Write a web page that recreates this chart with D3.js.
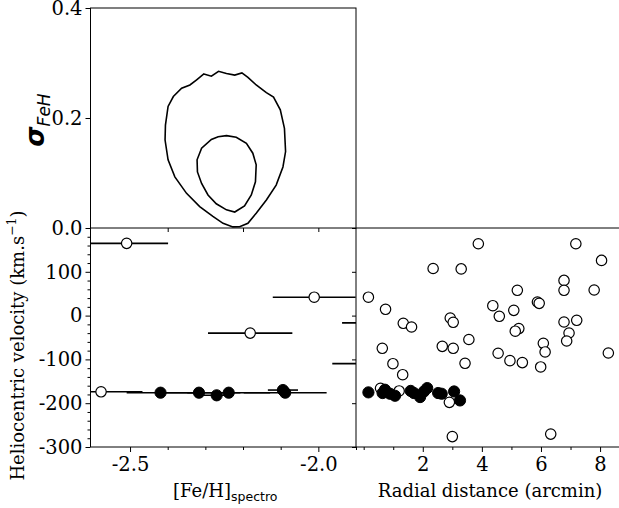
<!DOCTYPE html>
<html>
<head>
<meta charset="utf-8">
<script src="https://cdn.jsdelivr.net/npm/d3@7"></script>
<style>
  body { margin: 0; background: #fff; }
  svg text { font-family: "DejaVu Serif", serif; fill: #000; }
</style>
</head>
<body>
<svg id="fig" width="619" height="508"></svg>
<script>
// contour levels of (mean [Fe/H], sigma)
const contourOuter = [
  [-2.304,0.280],[-2.284,0.276],[-2.265,0.285],[-2.244,0.281],[-2.222,0.278],[-2.203,0.282],
  [-2.187,0.274],[-2.165,0.260],[-2.138,0.246],[-2.119,0.238],[-2.101,0.215],[-2.090,0.181],
  [-2.087,0.139],[-2.094,0.111],[-2.112,0.078],[-2.138,0.051],[-2.165,0.027],[-2.187,0.0085],
  [-2.209,0.0024],[-2.227,0.002],[-2.253,0.0085],[-2.280,0.021],[-2.315,0.039],[-2.350,0.063],
  [-2.381,0.093],[-2.399,0.124],[-2.407,0.160],[-2.406,0.187],[-2.399,0.221],[-2.385,0.239],
  [-2.363,0.254],[-2.341,0.260],[-2.324,0.269]
];
const contourInner = [
  [-2.244,0.168],[-2.218,0.165],[-2.191,0.154],[-2.174,0.136],[-2.165,0.115],[-2.167,0.084],
  [-2.178,0.060],[-2.196,0.040],[-2.222,0.029],[-2.244,0.033],[-2.271,0.044],[-2.293,0.060],
  [-2.310,0.081],[-2.321,0.102],[-2.322,0.124],[-2.310,0.145],[-2.284,0.161],[-2.266,0.166]
];

// velocity vs spectroscopic [Fe/H]
const openFeh = [-2.509, -2.011, -2.181, -2.577, -1.827, -1.853];
const openFehVel = [165, 42, -40, -174, -16.7, -109.6];
const openFehErr = [0.11, 0.11, 0.112, 0.11, 0.11, 0.11];
const filledFeh = [-2.419, -2.317, -2.270, -2.238, -2.094, -2.088];
const filledFehVel = [-176, -176, -182, -176, -170, -176];
const filledFehErr = [0.09, 0.11, 0.04, 0.11, 0.04, 0.11];

// velocity vs radial distance
const openRad = [3.88, 2.35, 3.30, 0.16, 0.74, 1.34, 1.62, 2.93, 3.03, 3.56, 0.63, 2.66, 3.03, 0.99, 1.32, 3.43,
  7.18, 8.05, 6.78, 6.78, 7.80, 5.20, 4.37, 4.59, 5.08, 5.88, 5.94, 5.25, 5.13, 6.78, 7.21, 6.95, 6.87, 6.08,
  6.14, 4.55, 4.95, 5.37, 5.99, 8.28, 3.00, 6.33, 2.90, 0.57, 1.20];
const openRadVel = [164, 107.5, 106.6, 42, 14.4, -17.6, -26, -5.5, -15.3, -54.6, -74.7, -70.2, -74.7, -109.8, -134.9, -108.9,
  164, 126, 80.4, 57.8, 58.5, 57.8, 22.6, -1.6, 12, 31, 28, -29.7, -35.6, -14.6, -10.7, -39.7, -58, -63.2,
  -83, -86, -102.8, -107.3, -117.2, -85.4, -276.3, -270.5, -198.1, -165.9, -172];
const filledRad = [0.16, 0.72, 0.64, 0.89, 1.06, 1.59, 1.70, 1.91, 2.04, 2.15, 2.52, 2.64, 3.06, 3.26];
const filledRadVel = [-175.3, -169.2, -176.8, -178.4, -183, -171.9, -176.8, -186, -173.2, -165.5, -176.8, -178.4, -173.2, -193.7];

const sigmaTicks = [0, 0.2, 0.4];
const fehTopTicks = [-2.4, -2.2, -2.0];
const fehMajor = [-2.5, -2.0];
const fehMinor = [-2.4, -2.3, -2.2, -2.1, -1.9];
const velMajor = [-300, -200, -100, 0, 100];
const velMinor = d3.range(-280, 200, 20).filter(v => v % 100 !== 0);
const radMajor = [2, 4, 6, 8];
const radMinor = [0, 1, 3, 5, 7];

const svg = d3.select("#fig");
const fmt = d => String(d).replace("\u2212", "-");

const L = 90.5, M = 356, R = 624, T = 8, MID = 228, B = 447;

const xFe = d3.scaleLinear().domain([-2.605, -1.9]).range([L, M]);
const ySig = d3.scaleLinear().domain([0, 0.4]).range([MID, T]);
const yVel = d3.scaleLinear().domain([-300, 200]).range([B, MID]);
const xRad = d3.scaleLinear().domain([-0.26, 8.81]).range([M, R]);

svg.append("defs").call(d => {
  d.append("clipPath").attr("id", "clipLeft").append("rect")
    .attr("x", L).attr("y", MID).attr("width", M - L).attr("height", B - MID);
  d.append("clipPath").attr("id", "clipTop").append("rect")
    .attr("x", L).attr("y", T).attr("width", M - L).attr("height", MID - T);
});

function styleAxis(g) {
  g.select(".domain").remove();
  g.selectAll(".tick line").attr("stroke", "#000").attr("stroke-width", 1);
  g.selectAll(".tick text").style("font-size", "19.5px").style("font-family", "DejaVu Serif");
}

// top panel: contours
const topPanel = svg.append("g");
topPanel.append("g").attr("clip-path", "url(#clipTop)")
  .selectAll("path").data([contourOuter, contourInner]).enter().append("path")
  .attr("d", d3.line().x(d => xFe(d[0])).y(d => ySig(d[1])).curve(d3.curveLinearClosed))
  .attr("fill", "none").attr("stroke", "#000").attr("stroke-width", 1.6);

topPanel.append("g").attr("transform", `translate(${L},0)`)
  .call(d3.axisLeft(ySig).tickValues(sigmaTicks).tickFormat(d3.format(".1f")).tickSize(5).tickPadding(3))
  .call(styleAxis);
topPanel.append("g").attr("transform", `translate(0,${MID})`)
  .call(d3.axisBottom(xFe).tickValues(fehTopTicks).tickFormat("").tickSize(4))
  .call(styleAxis);
topPanel.append("rect").attr("x", L).attr("y", T).attr("width", M - L).attr("height", MID - T)
  .attr("fill", "none").attr("stroke", "#000").attr("stroke-width", 1);

// bottom left: velocity vs [Fe/H]
const bl = svg.append("g");
const blPlot = bl.append("g").attr("clip-path", "url(#clipLeft)");
const openL = openFeh.map((f, i) => ({ f, v: openFehVel[i], e: openFehErr[i] }));
const fillL = filledFeh.map((f, i) => ({ f, v: filledFehVel[i], e: filledFehErr[i] }));

blPlot.selectAll(".eo").data(openL).enter().append("line")
  .attr("x1", d => xFe(d.f - d.e)).attr("x2", d => xFe(d.f + d.e))
  .attr("y1", d => yVel(d.v)).attr("y2", d => yVel(d.v))
  .attr("stroke", "#000").attr("stroke-width", 1.6);
blPlot.selectAll(".ef").data(fillL).enter().append("line")
  .attr("x1", d => xFe(d.f - d.e)).attr("x2", d => xFe(d.f + d.e))
  .attr("y1", d => yVel(d.v)).attr("y2", d => yVel(d.v))
  .attr("stroke", "#000").attr("stroke-width", 1.6);
blPlot.selectAll(".po").data(openL).enter().append("circle")
  .attr("cx", d => xFe(d.f)).attr("cy", d => yVel(d.v)).attr("r", 5.2)
  .attr("fill", "#fff").attr("stroke", "#000").attr("stroke-width", 1.2);
blPlot.selectAll(".pf").data(fillL).enter().append("circle")
  .attr("cx", d => xFe(d.f)).attr("cy", d => yVel(d.v)).attr("r", 5.6)
  .attr("fill", "#000").attr("stroke", "#000").attr("stroke-width", 1);

bl.append("g").attr("transform", `translate(${L},0)`)
  .call(d3.axisLeft(yVel).tickValues(velMajor).tickFormat(fmt).tickSize(5).tickPadding(3))
  .call(styleAxis);
bl.append("g").attr("transform", `translate(${L},0)`)
  .call(d3.axisLeft(yVel).tickValues(velMinor).tickFormat("").tickSize(3))
  .call(styleAxis);
bl.append("g").attr("transform", `translate(0,${B})`)
  .call(d3.axisBottom(xFe).tickValues(fehMajor).tickFormat(d => d3.format(".1f")(d).replace("\u2212", "-")).tickSize(5).tickPadding(5))
  .call(styleAxis);
bl.append("g").attr("transform", `translate(0,${B})`)
  .call(d3.axisBottom(xFe).tickValues(fehMinor).tickFormat("").tickSize(3))
  .call(styleAxis);
bl.append("line").attr("x1", L).attr("x2", L).attr("y1", MID).attr("y2", B).attr("stroke", "#000");
bl.append("line").attr("x1", L).attr("x2", M).attr("y1", B).attr("y2", B).attr("stroke", "#000");
bl.append("line").attr("x1", M).attr("x2", M).attr("y1", MID).attr("y2", B).attr("stroke", "#000");

// bottom right: velocity vs radial distance
const br = svg.append("g");
const openR = openRad.map((r, i) => ({ r, v: openRadVel[i] }));
const fillR = filledRad.map((r, i) => ({ r, v: filledRadVel[i] }));
br.selectAll(".ro").data(openR).enter().append("circle")
  .attr("cx", d => xRad(d.r)).attr("cy", d => yVel(d.v)).attr("r", 5.2)
  .attr("fill", "#fff").attr("stroke", "#000").attr("stroke-width", 1.2);
br.selectAll(".rf").data(fillR).enter().append("circle")
  .attr("cx", d => xRad(d.r)).attr("cy", d => yVel(d.v)).attr("r", 5.6)
  .attr("fill", "#000").attr("stroke", "#000").attr("stroke-width", 1);

br.append("g").attr("transform", `translate(${M},0)`)
  .call(d3.axisLeft(yVel).tickValues(velMajor.concat([200])).tickFormat("").tickSize(4))
  .call(styleAxis);
br.append("g").attr("transform", `translate(0,${B})`)
  .call(d3.axisBottom(xRad).tickValues(radMajor).tickFormat(d3.format("d")).tickSize(5).tickPadding(5))
  .call(styleAxis);
br.append("g").attr("transform", `translate(0,${B})`)
  .call(d3.axisBottom(xRad).tickValues(radMinor).tickFormat("").tickSize(3))
  .call(styleAxis);
br.append("line").attr("x1", M).attr("x2", R).attr("y1", MID).attr("y2", MID).attr("stroke", "#000");
br.append("line").attr("x1", M).attr("x2", R).attr("y1", B).attr("y2", B).attr("stroke", "#000");

// labels
svg.append("text").attr("transform", `translate(44,120) rotate(-90)`)
  .attr("text-anchor", "middle")
  .call(t => {
    t.append("tspan").style("font-family", "DejaVu Sans").style("font-style", "italic")
      .style("font-weight", "bold").style("font-size", "26px").text("σ");
    t.append("tspan").style("font-family", "DejaVu Sans").style("font-style", "italic")
      .style("font-size", "17px").attr("dy", 6).text("FeH");
  });

svg.append("text").attr("transform", `translate(24,${(MID + B) / 2 + 8}) rotate(-90)`)
  .attr("text-anchor", "middle").style("font-size", "18px")
  .call(t => {
    t.append("tspan").text("Heliocentric velocity (km.s");
    t.append("tspan").attr("dy", -8).style("font-size", "12.5px").text("\u22121");
    t.append("tspan").attr("dy", 8).text(")");
  });

svg.append("text").attr("x", (L + M) / 2 + 2).attr("y", 497).attr("text-anchor", "middle")
  .style("font-size", "18px")
  .call(t => {
    t.append("tspan").text("[Fe/H]");
    t.append("tspan").attr("dy", 4).style("font-family", "DejaVu Sans").style("font-size", "12.5px").text("spectro");
  });

svg.append("text").attr("x", (M + R) / 2).attr("y", 497).attr("text-anchor", "middle")
  .style("font-size", "18px").text("Radial distance (arcmin)");
</script>
</body>
</html>
